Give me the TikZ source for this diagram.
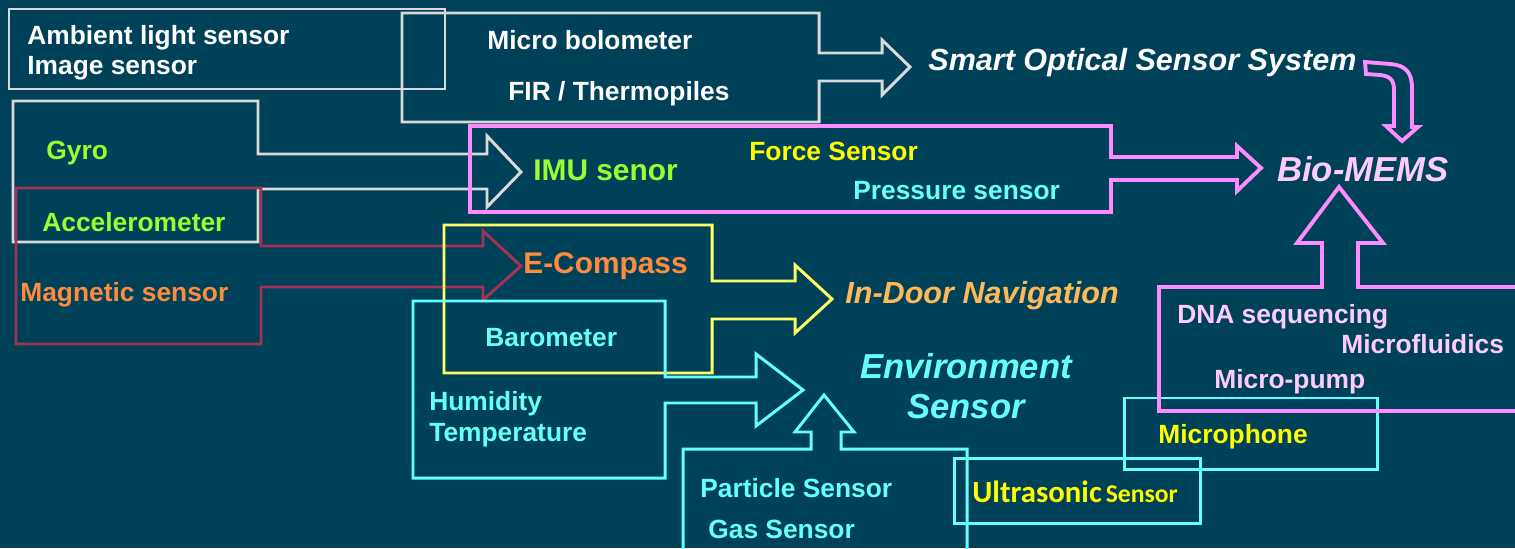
\documentclass[tikz,border=0pt]{standalone}
\usepackage{fontspec}
\setmainfont{Liberation Sans}
\newfontfamily\calibrifont{Carlito}
\usepackage{xcolor}
\usepackage{tikz}

\definecolor{bgTeal}{HTML}{00415A}
\definecolor{lineGray}{HTML}{D9D9D9}
\definecolor{lineCrimson}{HTML}{A33355}
\definecolor{lineYellow}{HTML}{FFFF66}
\definecolor{lineCyan}{HTML}{66FFFF}
\definecolor{linePink}{HTML}{FF8CFF}
\definecolor{txtGreen}{HTML}{99FF33}
\definecolor{txtYellow}{HTML}{FFFF00}
\definecolor{txtCyan}{HTML}{66FFFF}
\definecolor{txtOrange}{HTML}{FF8B3D}
\definecolor{txtGold}{HTML}{FFB957}
\definecolor{txtPink}{HTML}{FFCCFF}

\begin{document}
\begin{tikzpicture}[x=0.02cm, y=-0.02cm, line join=miter]
    % Stili
    \tikzstyle{grayline}=[draw=lineGray, line width=1.7pt]
    \tikzstyle{redline}=[draw=lineCrimson, line width=1.7pt]
    \tikzstyle{yellowline}=[draw=lineYellow, line width=1.7pt]
    \tikzstyle{cyanline}=[draw=lineCyan, line width=1.7pt]
    \tikzstyle{pinkline}=[draw=linePink, line width=2.2pt]
    \tikzstyle{sensortext}=[anchor=west, inner sep=0pt, text height=10.75pt, text depth=0pt, font=\bfseries\fontsize{15}{18}\selectfont]
    \tikzstyle{bigtext}=[sensortext, text height=12.2pt, font=\bfseries\fontsize{17}{20}\selectfont]
    \tikzstyle{systemtext}=[sensortext, text height=12.4pt, font=\bfseries\itshape\fontsize{17.4}{21}\selectfont]
    \tikzstyle{mainsystem}=[sensortext, text height=14.1pt, font=\bfseries\itshape\fontsize{19.7}{24}\selectfont]

    % Sfondo
    \fill [bgTeal] (0,0) rectangle (1515,548);
    \useasboundingbox (0,0) rectangle (1515,548);

    % Forme
    \draw [grayline] (9,9) rectangle (445,89);
    \draw [grayline] (402,13) -- (819,13) -- (819,53) -- (882,53) -- (882,40) -- (910,67) -- (882,95) -- (882,81) -- (819,81) -- (819,122) -- (402,122) -- cycle;
    \draw [grayline] (13,101) -- (258,101) -- (258,154) -- (487,154) -- (487,136) -- (521,172) -- (487,207) -- (487,189) -- (258,189) -- (258,242) -- (13,242) -- cycle;
    \draw [redline] (16,188) -- (261,188) -- (261,246) -- (483,246) -- (483,231) -- (521,266) -- (483,300) -- (483,287) -- (261,287) -- (261,344) -- (16,344) -- cycle;
    \draw [pinkline] (470,126) -- (1111,126) -- (1111,157) -- (1237,157) -- (1237,146) -- (1261,168) -- (1237,191) -- (1237,180) -- (1111,180) -- (1111,212) -- (470,212) -- cycle;
    \draw [yellowline] (444,225) -- (712,225) -- (712,281) -- (795,281) -- (795,265) -- (832,299) -- (795,333) -- (795,319) -- (712,319) -- (712,373) -- (444,373) -- cycle;
    \draw [cyanline] (413,301) -- (665,301) -- (665,377) -- (756,377) -- (756,354) -- (803,390) -- (756,426) -- (756,403) -- (665,403) -- (665,478) -- (413,478) -- cycle;
    \draw [cyanline] (683,556) -- (683,449) -- (811,449) -- (811,432) -- (795,432) -- (824,395) -- (854,432) -- (841,432) -- (841,449) -- (967,449) -- (967,556);
    \draw [cyanline] (954,458) rectangle (1200,523);
    \draw [cyanline] (1124,398) rectangle (1377,469);
    \draw [pinkline] (1526,287) -- (1358,287) -- (1358,243) -- (1383,243) -- (1339,187) -- (1297,243) -- (1322,243) -- (1322,287) -- (1159,287) -- (1159,411) -- (1526,411);
    \draw [pinkline] (1365,62) -- (1390,64) .. controls (1405,65) and (1412,72) .. (1412,88) -- (1412,127) -- (1418,127) -- (1402,141) -- (1386,126) -- (1394,126) -- (1394,90) .. controls (1394,80) and (1390,76) .. (1380,75) -- (1366,74) -- cycle;

    % Testi
    \node (ambient) [sensortext, white] at (27,35) {Ambient light sensor};
    \node (image) [sensortext, white] at (27,65) {Image sensor};
    \node (bolometer) [sensortext, white] at (487,40) {Micro bolometer};
    \node (fir) [sensortext, white] at (508,91) {FIR / Thermopiles};
    \node (optical) [systemtext, white] at (928,60) {Smart Optical Sensor System};
    \node (gyro) [sensortext, txtGreen] at (46,150) {Gyro};
    \node (imu) [bigtext, txtGreen] at (533,170) {IMU senor};
    \node (force) [sensortext, txtYellow] at (749,151) {Force Sensor};
    \node (pressure) [sensortext, txtCyan] at (853,190) {Pressure sensor};
    \node (biomems) [mainsystem, txtPink] at (1277,169) {Bio-MEMS};
    \node (accel) [sensortext, txtGreen] at (42,222) {Accelerometer};
    \node (compass) [bigtext, txtOrange] at (523,263) {E-Compass};
    \node (magnetic) [sensortext, txtOrange] at (20,292) {Magnetic sensor};
    \node (indoor) [systemtext, txtGold] at (845,293) {In-Door Navigation};
    \node (dna) [sensortext, txtPink] at (1177,314) {DNA sequencing};
    \node (fluidics) [sensortext, txtPink] at (1341,344) {Microfluidics};
    \node (barometer) [sensortext, txtCyan] at (485,337) {Barometer};
    \node (env) [mainsystem, anchor=center, txtCyan] at (966,366) {Environment};
    \node (envsensor) [mainsystem, anchor=center, txtCyan] at (966,406) {Sensor};
    \node (pump) [sensortext, txtPink] at (1214,379) {Micro-pump};
    \node (humidity) [sensortext, txtCyan] at (429,401) {Humidity};
    \node (temperature) [sensortext, txtCyan] at (429,432) {Temperature};
    \node (microphone) [sensortext, txtYellow] at (1158,434) {Microphone};
    \node (particle) [sensortext, txtCyan] at (700,488) {Particle Sensor};
    \node (ultrasonic) [sensortext, text height=11.2pt, txtYellow, font=\calibrifont\bfseries] at (972,493) {{\fontsize{17.5}{20}\selectfont Ultrasonic} {\fontsize{14.6}{17}\selectfont Sensor}};
    \node (gas) [sensortext, txtCyan] at (708,529) {Gas Sensor};

\end{tikzpicture}
\end{document}
